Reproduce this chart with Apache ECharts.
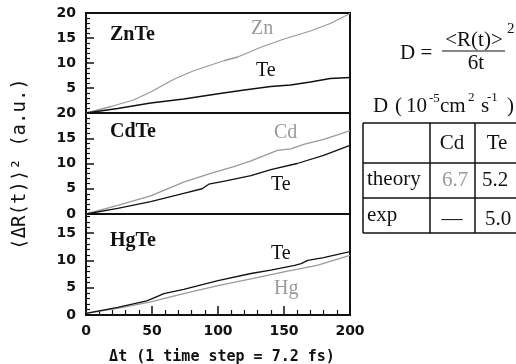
<!DOCTYPE html>
<html>
<head>
<meta charset="utf-8">
<script src="https://cdn.jsdelivr.net/npm/echarts@6/dist/echarts.min.js"></script>
<style>
  html, body { margin: 0; padding: 0; background: #fff; }
  #chart { width: 516px; height: 364px; }
</style>
</head>
<body>
<div id="chart"></div>
<script>
// panel names, top to bottom
const panelNames = ["ZnTe", "CdTe", "HgTe"];
const panelMax = [20, 20, 18.5];

// ZnTe
const timeZnZn = [0, 19, 36, 49, 67, 82, 105, 115, 132, 150, 170, 185, 200];
const msdZnZn = [0, 1.3, 2.6, 4.2, 6.8, 8.5, 10.5, 11.2, 13.1, 14.8, 16.4, 17.9, 19.9];
const timeZnTe = [0, 24, 49, 74, 104, 120, 140, 155, 170, 185, 200];
const msdZnTe = [0, 0.9, 2.0, 2.8, 4.0, 4.6, 5.3, 5.6, 6.2, 6.9, 7.1];
// CdTe
const timeCdCd = [0, 24, 49, 74, 95, 112, 125, 145, 155, 165, 180, 190, 200];
const msdCdCd = [0, 1.7, 3.6, 6.3, 8.1, 9.4, 10.5, 12.6, 12.9, 13.8, 14.8, 15.6, 16.5];
const timeCdTe = [0, 24, 49, 74, 88, 93, 105, 125, 140, 160, 180, 200];
const msdCdTe = [0, 1.1, 2.45, 4.1, 5.0, 5.9, 6.5, 7.6, 8.8, 10.0, 11.6, 13.6];
// HgTe
const timeHgTe = [0, 24, 46, 52, 59, 74, 100, 125, 140, 158, 163, 168, 180, 200];
const msdHgTe = [0.3, 1.4, 2.6, 3.2, 3.9, 4.7, 6.3, 7.6, 8.2, 9.1, 9.4, 10.0, 10.5, 11.6];
const timeHgHg = [0, 24, 49, 74, 100, 125, 150, 175, 200];
const msdHgHg = [0.3, 1.2, 2.4, 3.9, 5.4, 6.6, 7.9, 9.1, 10.9];

// diffusion table
const tableCols = ["Cd", "Te"];
const tableRows = ["theory", "exp"];
const tableTheory = ["6.7", "5.2"];
const tableExp = ["\u2014", "5.0"];

const GREY = "#9a9a9a";
const BLACK = "#111";
const serif = "'Liberation Serif', 'Times New Roman', serif";
const big = "21px " + serif;

function pairs(ts, vs) {
    return ts.map((t, i) => [t, vs[i]]);
}

const gridTops = [13, 113, 214];
const gridHeights = [100, 101, 101];

const grids = gridTops.map((top, i) => ({
    left: 86, top: top, width: 264, height: gridHeights[i],
    show: true, borderColor: BLACK, borderWidth: 2, backgroundColor: "transparent"
}));

const xAxes = gridTops.map((_, i) => ({
    type: "value", gridIndex: i, min: 0, max: 200, interval: 50,
    axisLine: { show: false },
    axisTick: { show: i === 2, inside: true, length: 9, lineStyle: { color: BLACK, width: 1.5 } },
    minorTick: { show: i === 2, splitNumber: 5, length: 5, lineStyle: { color: BLACK, width: 1.2 } },
    axisLabel: { show: i === 2, margin: 9, color: BLACK, fontFamily: "DejaVu Sans", fontWeight: "bold", fontSize: 14 },
    splitLine: { show: false }
}));

const yAxes = gridTops.map((_, i) => ({
    type: "value", gridIndex: i, min: 0, max: panelMax[i], interval: 5,
    axisLine: { show: false },
    axisTick: { show: true, inside: true, length: 8, lineStyle: { color: BLACK, width: 1.5 } },
    minorTick: { show: true, splitNumber: 5, length: 4, lineStyle: { color: BLACK, width: 1.2 } },
    axisLabel: {
        margin: 10, color: BLACK, fontFamily: "DejaVu Sans", fontWeight: "bold", fontSize: 14,
        showMinLabel: i !== 0, showMaxLabel: i !== 2
    },
    splitLine: { show: false }
}));

function line(idx, data, color) {
    return {
        type: "line", xAxisIndex: idx, yAxisIndex: idx, data: data,
        showSymbol: false, smooth: false,
        lineStyle: { color: color, width: 1.3 }, itemStyle: { color: color }
    };
}

const series = [
    line(0, pairs(timeZnZn, msdZnZn), GREY),
    line(0, pairs(timeZnTe, msdZnTe), BLACK),
    line(1, pairs(timeCdCd, msdCdCd), GREY),
    line(1, pairs(timeCdTe, msdCdTe), BLACK),
    line(2, pairs(timeHgHg, msdHgHg), GREY),
    line(2, pairs(timeHgTe, msdHgTe), BLACK)
];

function txt(text, x, y, font, fill, align, vAlign) {
    return {
        type: "text", x: x, y: y, silent: true,
        style: { text: text, font: font, fill: fill || BLACK,
                 textAlign: align || "left", textVerticalAlign: vAlign || "middle" }
    };
}
function seg(x1, y1, x2, y2, w) {
    return { type: "line", silent: true, shape: { x1: x1, y1: y1, x2: x2, y2: y2 },
             style: { stroke: BLACK, lineWidth: w || 1.5 } };
}

const graphics = [];
// panel names
const nameY = [35, 132, 241];
panelNames.forEach((n, i) => graphics.push(txt(n, 110, nameY[i], "bold 20px " + serif)));
// curve labels
graphics.push(txt("Zn", 251, 29, "20px " + serif, GREY));
graphics.push(txt("Te", 256, 71, "20px " + serif));
graphics.push(txt("Cd", 274, 133, "20px " + serif, GREY));
graphics.push(txt("Te", 271, 185, "20px " + serif));
graphics.push(txt("Te", 271, 254, "20px " + serif));
graphics.push(txt("Hg", 274, 289, "20px " + serif, GREY));

// axis names
graphics.push({
    type: "text", x: 20, y: 164, rotation: Math.PI / 2, silent: true,
    style: { text: "\u27e8\u0394R(t)\u27e9\u00b2 (a.u.)", font: "19px 'DejaVu Sans Mono'", fill: BLACK,
             textAlign: "center", textVerticalAlign: "middle" }
});
graphics.push(txt("\u0394t (1 time step = 7.2 fs)", 222, 357, "bold 15px 'DejaVu Sans Mono'", BLACK, "center"));

// formula
graphics.push(txt("D =", 400, 53, big));
graphics.push(txt("<R(t)>", 474, 40, big, BLACK, "center"));
graphics.push(txt("2", 507, 29, "15px " + serif));
graphics.push(seg(442, 51, 505, 51, 1.2));
graphics.push(txt("6t", 476, 63, big, BLACK, "center"));

// units line
graphics.push(txt("D", 373, 106, big));
graphics.push(txt("(", 395, 106, big));
graphics.push(txt("10", 406, 106, big));
graphics.push(txt("-5", 429, 99, "13px " + serif));
graphics.push(txt("cm", 440, 106, big));
graphics.push(txt("2", 468, 98, "13px " + serif));
graphics.push(txt("s", 481, 106, big));
graphics.push(txt("-1", 487, 98, "13px " + serif));
graphics.push(txt(")", 507, 106, big));

// table grid
[363, 430, 475].forEach(x => graphics.push(seg(x, 123, x, 233)));
[123, 163, 198, 233].forEach(y => graphics.push(seg(363, y, 520, y)));
const colX = [452, 497];
tableCols.forEach((c, i) => graphics.push(txt(c, colX[i], 143, big, BLACK, "center")));
graphics.push(txt(tableRows[0], 367, 179, big));
graphics.push(txt(tableRows[1], 367, 215, big));
tableTheory.forEach((v, i) => graphics.push(txt(v, colX[i] + (i === 0 ? 3 : -2), 180, big, i === 0 ? GREY : BLACK, "center")));
tableExp.forEach((v, i) => graphics.push(txt(v, colX[i] + (i === 0 ? 0 : 1), 219, big, BLACK, "center")));

const chart = echarts.init(document.getElementById("chart"), null, { renderer: "canvas" });
chart.setOption({
    animation: false,
    backgroundColor: "#fff",
    grid: grids,
    xAxis: xAxes,
    yAxis: yAxes,
    series: series,
    graphic: graphics
});
</script>
</body>
</html>
